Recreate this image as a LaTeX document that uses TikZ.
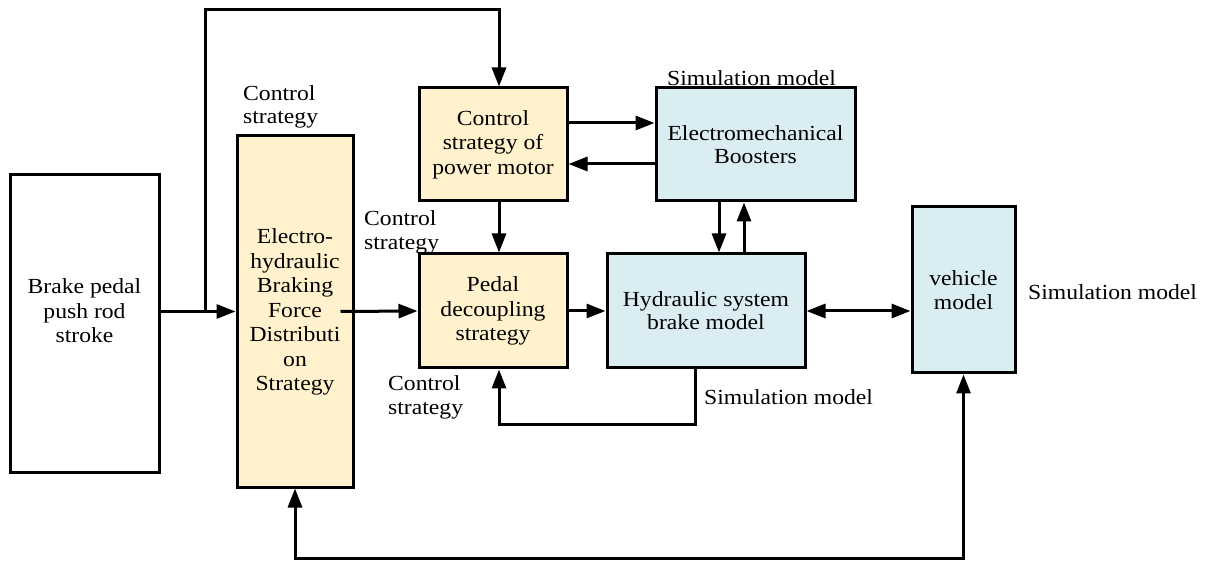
\documentclass[tikz,border=0pt]{standalone}
\usepackage{fontspec}
\setmainfont{Liberation Serif}[FakeStretch=1.1]
\usetikzlibrary{arrows.meta}
\definecolor{ylw}{RGB}{255,242,204}
\definecolor{blu}{RGB}{218,237,243}
\newcommand\dfont{\fontsize{21.5}{24.5}\selectfont}
\begin{document}
\begin{tikzpicture}[x=1pt,y=-1pt,
  box/.style={draw, line width=3pt, inner sep=0pt, align=center, font=\dfont},
  ybox/.style={box, fill=ylw},
  bbox/.style={box, fill=blu},
  lbl/.style={inner sep=0pt, align=left, font=\dfont, anchor=west},
  conn/.style={line width=3pt, -{Triangle[length=19pt,width=14pt]}},
  conn2/.style={line width=3pt, {Triangle[length=19pt,width=14pt]}-{Triangle[length=19pt,width=14pt]}},
  plain/.style={line width=3pt}]
\useasboundingbox (0,0) rectangle (1211,561);

\node[box, minimum width=149pt, minimum height=297pt] (BP) at (84.5,323.5) {};
\node[inner sep=0pt, align=center, font=\dfont] (BPt) at (84.5,311) {Brake pedal\\push rod\\stroke};

\node[ybox, minimum width=116pt, minimum height=351pt] (EH) at (295,311.5) {};
\node[inner sep=0pt, align=center, font=\dfont] (EHt) at (295,312) {Electro-\\hydraulic\\Braking\\Force\\Distributi\\on\\Strategy};

\node[ybox, minimum width=148pt, minimum height=113pt] (CS) at (493,144.5) {Control\\strategy of\\power motor};
\node[bbox, minimum width=199pt, minimum height=113pt, font=\fontsize{21.5}{23}\selectfont] (EB) at (755.5,144.5) {Electromechanical\\Boosters};
\node[ybox, minimum width=148pt, minimum height=114pt] (PD) at (493,311) {Pedal\\decoupling\\strategy};
\node[bbox, minimum width=198pt, minimum height=114pt, font=\fontsize{21.5}{23}\selectfont] (HS) at (706,311) {Hydraulic system\\brake model};
\node[bbox, minimum width=103pt, minimum height=166pt, font=\fontsize{21.5}{23.5}\selectfont] (VM) at (963.5,290) {vehicle\\model};

\node[lbl, font=\fontsize{21.5}{23}\selectfont] (L1) at (243,106.5) {Control\\strategy};
\node[lbl] (L2) at (364,232.5) {Control\\strategy};
\node[lbl, font=\fontsize{21.5}{24}\selectfont] (L3) at (388,397) {Control\\strategy};
\node[lbl] (S1) at (667,78) {Simulation model};
\node[lbl] (S2) at (1028,292) {Simulation model};
\node[lbl] (S3) at (704,397) {Simulation model};

\coordinate (j) at (205,311.5);
\draw[conn] (BP.east |- EH.west) -- (EH.west);
\draw[conn] (j) -- (205,10) -| ([xshift=6pt]CS.north);
\draw[conn] ([xshift=-14pt]EH.east) -- (PD.west);
\draw[conn] (CS.east |- 0,123) -- (EB.west |- 0,123);
\draw[conn] (EB.west |- 0,164) -- (CS.east |- 0,164);
\draw[conn] ([xshift=6pt]CS.south) -- ([xshift=6pt]PD.north);
\draw[conn] (EB.south -| 719,0) -- (HS.north -| 719,0);
\draw[conn] (HS.north -| 744,0) -- (EB.south -| 744,0);
\draw[conn] (PD.east) -- (HS.west);
\draw[conn2] (HS.east) -- (VM.west |- HS.east);
\draw[conn] (HS.south -| 695,0) -- (695,425) -| ([xshift=6pt]PD.south);
\draw[conn2] (EH.south) -- (EH.south |- 0,558) -| (VM.south);
\end{tikzpicture}
\end{document}
